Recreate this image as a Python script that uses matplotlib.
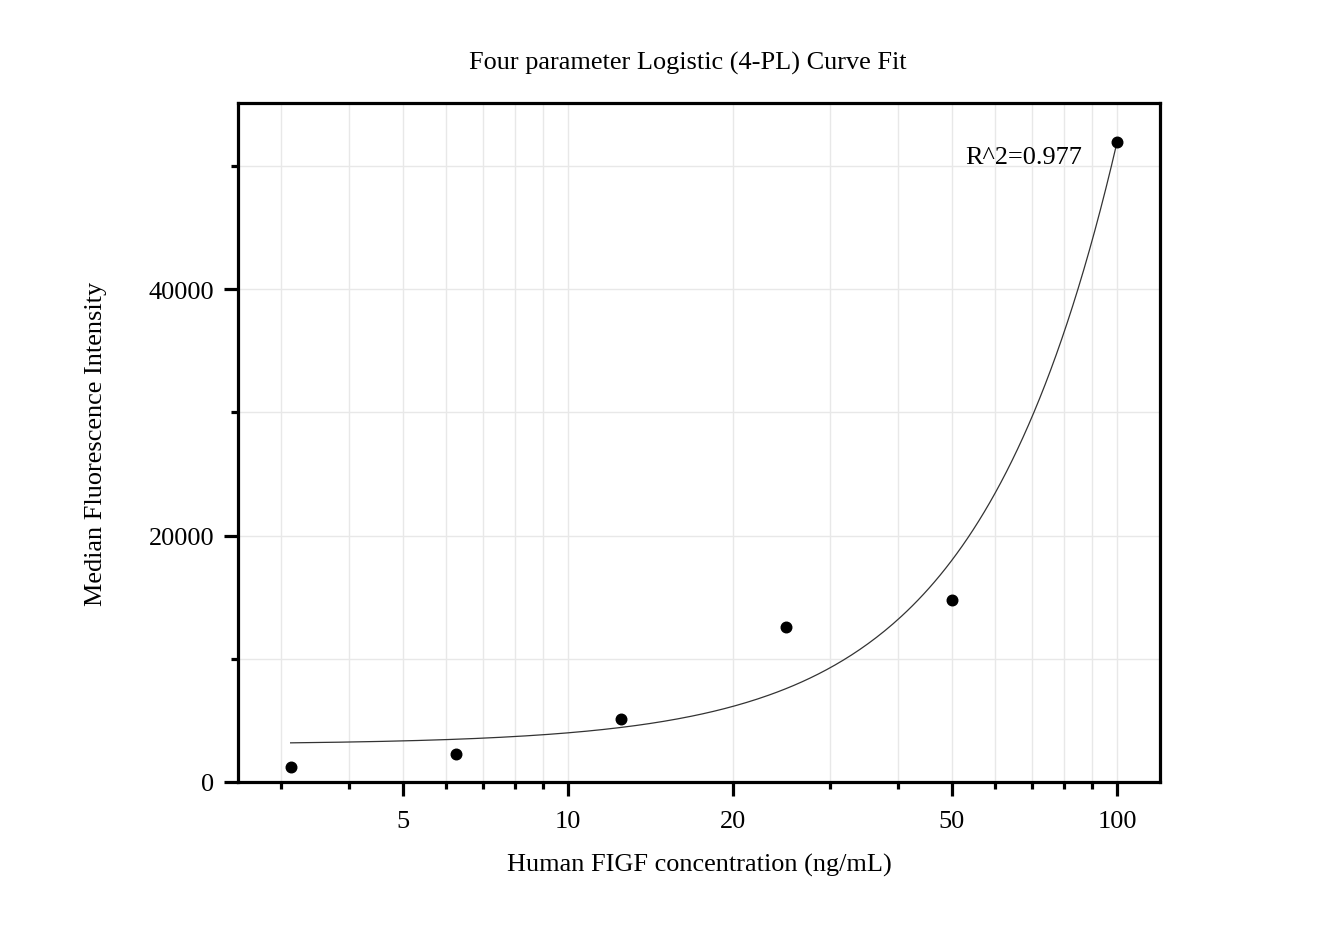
import numpy as np
import matplotlib
matplotlib.use("Agg")
import matplotlib.pyplot as plt
from matplotlib.ticker import FixedLocator, NullFormatter, FixedFormatter

# Data
concentration = [3.125, 6.25, 12.5, 25, 50, 100]
mfi = [1220, 2270, 5110, 12580, 14770, 51930]

# Four-parameter logistic fit parameters (bottom, slope, inflection, top)
fit_a = 3050.0
fit_b = 1.72
fit_c = 1466.0
fit_d = 5.0e6
r_squared = "R^2=0.977"

x_major = [5, 10, 20, 50, 100]
x_major_labels = ["5", "10", "20", "50", "100"]
x_minor = [3, 4, 6, 7, 8, 9, 30, 40, 60, 70, 80, 90]
y_major = [0, 20000, 40000]
y_minor = [10000, 30000, 50000]

plt.rcParams['font.family'] = ['Liberation Serif', 'DejaVu Serif']
fs = 18.9

fig = plt.figure(figsize=(13.44, 9.37), dpi=100)
ax = fig.add_axes([238/1344, 1-783/937, (1160-238)/1344, (783-104)/937])

ax.set_xscale('log')
ax.set_xlim(2.506, 119.8)
ax.set_ylim(0, 55100)

xs = np.logspace(np.log10(concentration[0]), np.log10(concentration[-1]), 300)
ys = fit_d + (fit_a - fit_d) / (1 + (xs / fit_c) ** fit_b)
ax.plot(xs, ys, color='#333333', lw=0.9, zorder=3)
ax.plot(concentration, mfi, 'o', color='black', ms=7.6, zorder=4, clip_on=False)

ax.xaxis.set_major_locator(FixedLocator(x_major))
ax.xaxis.set_major_formatter(FixedFormatter(x_major_labels))
ax.xaxis.set_minor_locator(FixedLocator(x_minor))
ax.xaxis.set_minor_formatter(NullFormatter())
ax.yaxis.set_major_locator(FixedLocator(y_major))
ax.yaxis.set_minor_locator(FixedLocator(y_minor))
ax.set_yticklabels([str(v) for v in y_major])

ax.grid(True, which='both', color='#e8e8e8', lw=1.0, zorder=0)
ax.set_axisbelow(True)

for s in ax.spines.values():
    s.set_linewidth(2.3)
ax.tick_params(which='major', direction='out', length=10, width=2.3, labelsize=fs, pad=7)
ax.tick_params(which='minor', direction='out', length=5, width=2.3)
ax.tick_params(axis='x', which='major', pad=10)

ax.set_xlabel('Human FIGF concentration (ng/mL)', fontsize=fs, labelpad=15)
ax.set_ylabel('Median Fluorescence Intensity', fontsize=fs, labelpad=30)
fig.text(688/1344, 1-63/937, 'Four parameter Logistic (4-PL) Curve Fit', fontsize=fs,
         ha='center', va='center')
ax.text((965-238)/922, (783-158)/679, r_squared, transform=ax.transAxes,
        fontsize=fs, ha='left', va='center')

fig.savefig('out.png', dpi=100, facecolor='white')
